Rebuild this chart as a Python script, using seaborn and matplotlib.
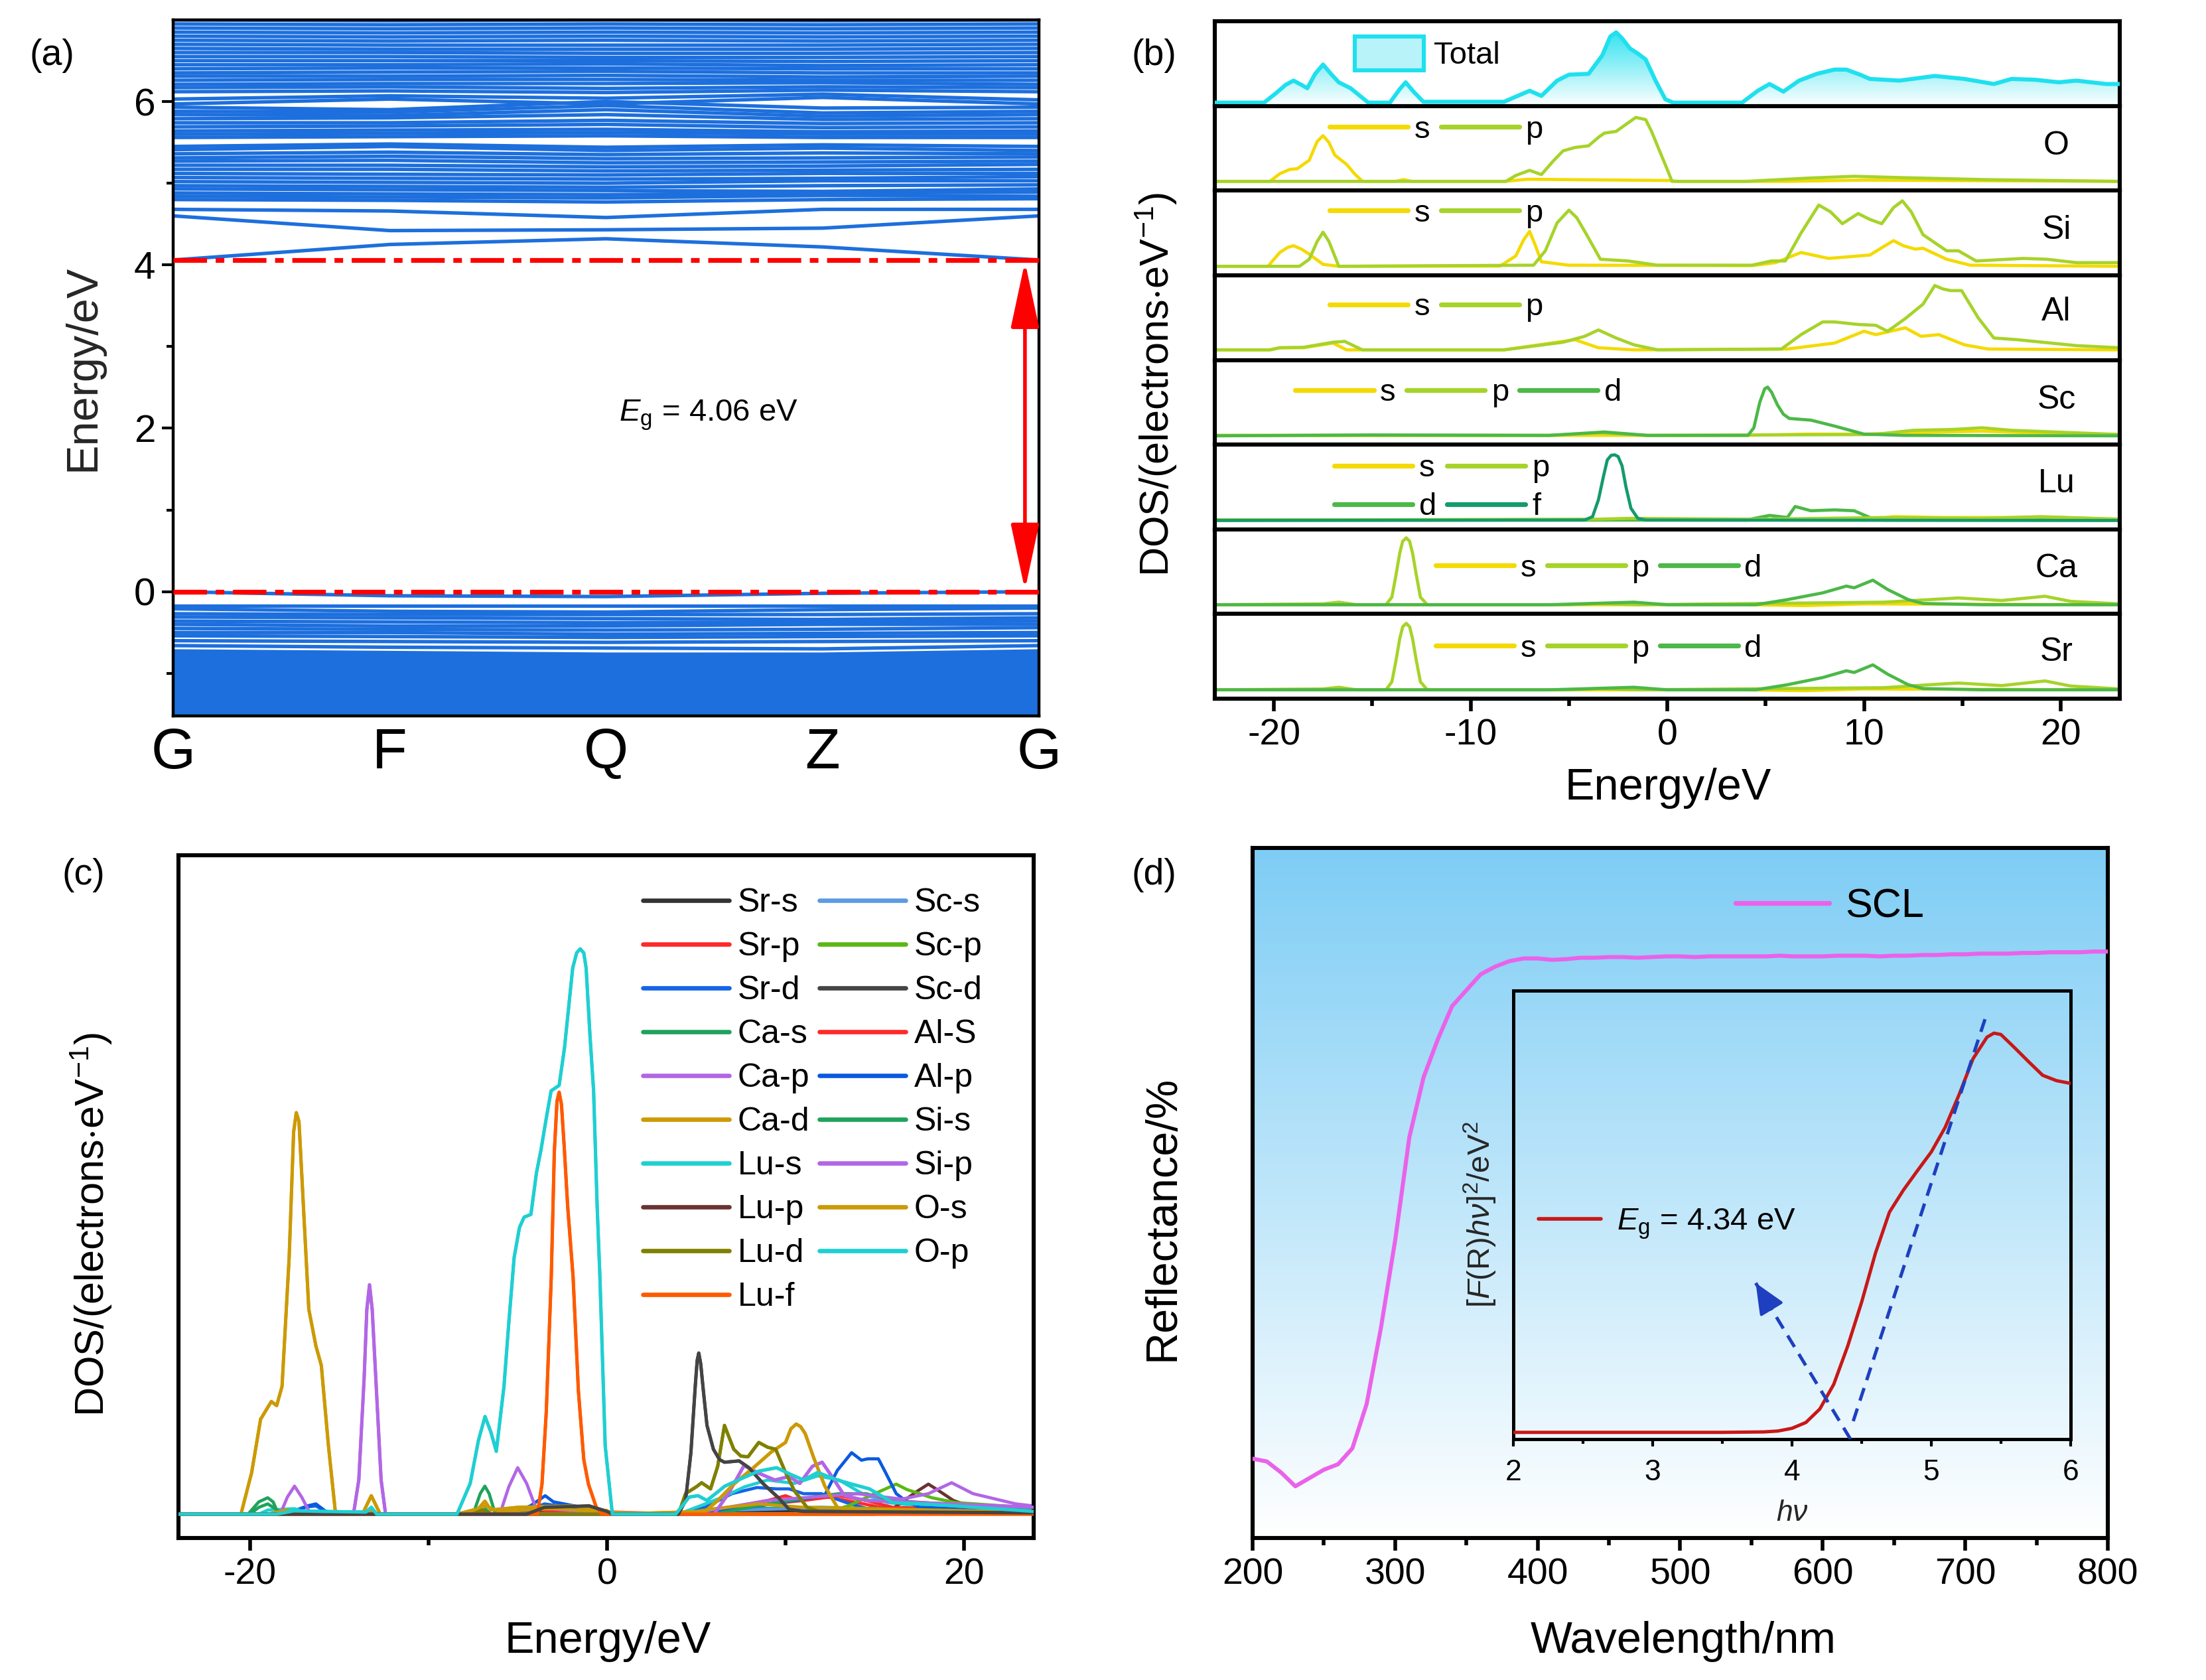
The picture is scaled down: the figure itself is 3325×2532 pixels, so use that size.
import numpy as np
import matplotlib
matplotlib.use('Agg')
import matplotlib.pyplot as plt
import seaborn as sns
from matplotlib.colors import LinearSegmentedColormap
from matplotlib.lines import Line2D
from matplotlib.patches import Patch, PathPatch

# ---------------- (a) band structure: energies at G F Q Z G ----------------
K_LABELS = ['G', 'F', 'Q', 'Z', 'G']
K_POS = [0, 1, 2, 3, 4]
CB_BANDS = [
    [4.06, 4.25, 4.32, 4.22, 4.06],
    [4.60, 4.42, 4.43, 4.45, 4.60],
    [4.68, 4.66, 4.58, 4.68, 4.68],
    [4.80, 4.79, 4.77, 4.80, 4.81],
    [4.84, 4.83, 4.82, 4.85, 4.84],
    [4.88, 4.87, 4.86, 4.88, 4.89],
    [4.93, 4.92, 4.91, 4.90, 4.93],
    [4.97, 4.96, 4.95, 4.97, 4.98],
    [5.02, 5.01, 5.00, 5.03, 5.03],
    [5.07, 5.06, 5.05, 5.06, 5.08],
    [5.12, 5.11, 5.10, 5.12, 5.12],
    [5.17, 5.17, 5.15, 5.16, 5.17],
    [5.22, 5.22, 5.20, 5.21, 5.23],
    [5.27, 5.28, 5.25, 5.26, 5.27],
    [5.31, 5.33, 5.30, 5.31, 5.32],
    [5.36, 5.38, 5.35, 5.37, 5.36],
    [5.41, 5.45, 5.40, 5.43, 5.40],
    [5.45, 5.48, 5.44, 5.47, 5.45],
    [5.56, 5.57, 5.58, 5.56, 5.56],
    [5.60, 5.61, 5.62, 5.60, 5.60],
    [5.64, 5.65, 5.66, 5.63, 5.64],
    [5.69, 5.70, 5.72, 5.68, 5.69],
    [5.74, 5.74, 5.77, 5.73, 5.74],
    [5.79, 5.80, 5.84, 5.78, 5.79],
    [5.84, 5.83, 5.90, 5.82, 5.84],
    [5.88, 5.87, 5.95, 5.86, 5.88],
    [5.93, 5.90, 6.00, 5.92, 5.93],
    [5.97, 6.03, 5.97, 6.05, 5.97],
    [6.03, 6.07, 6.04, 6.09, 6.02],
    [6.12, 6.13, 6.11, 6.14, 6.12],
    [6.17, 6.18, 6.16, 6.18, 6.17],
    [6.21, 6.22, 6.22, 6.23, 6.21],
    [6.26, 6.27, 6.27, 6.26, 6.26],
    [6.31, 6.31, 6.32, 6.30, 6.31],
    [6.35, 6.36, 6.37, 6.35, 6.35],
    [6.40, 6.41, 6.41, 6.40, 6.40],
    [6.45, 6.45, 6.46, 6.44, 6.45],
    [6.50, 6.50, 6.50, 6.49, 6.50],
    [6.55, 6.55, 6.54, 6.54, 6.55],
    [6.60, 6.60, 6.59, 6.59, 6.60],
    [6.65, 6.64, 6.64, 6.64, 6.65],
    [6.70, 6.69, 6.69, 6.69, 6.70],
    [6.75, 6.74, 6.75, 6.74, 6.75],
    [6.80, 6.79, 6.80, 6.79, 6.80],
    [6.85, 6.84, 6.85, 6.84, 6.85],
    [6.90, 6.89, 6.90, 6.89, 6.90],
    [6.95, 6.94, 6.95, 6.94, 6.95],
    [7.00, 6.99, 7.00, 6.99, 7.00],
]
VB_BANDS = [
    [0.00, -0.05, -0.06, -0.02, 0.00],
    [-0.17, -0.17, -0.17, -0.17, -0.17],
    [-0.21, -0.24, -0.25, -0.22, -0.20],
    [-0.27, -0.28, -0.28, -0.28, -0.27],
    [-0.31, -0.32, -0.33, -0.34, -0.32],
    [-0.36, -0.37, -0.38, -0.37, -0.36],
    [-0.40, -0.42, -0.42, -0.40, -0.40],
    [-0.45, -0.46, -0.47, -0.46, -0.44],
    [-0.50, -0.50, -0.52, -0.51, -0.50],
    [-0.54, -0.55, -0.56, -0.55, -0.54],
    [-0.60, -0.61, -0.62, -0.61, -0.60],
    [-0.66, -0.68, -0.69, -0.70, -0.66],
]
VB_DENSE_TOP = [-0.70, -0.72, -0.74, -0.74, -0.70]
VB_DENSE_BOTTOM = [-1.60, -1.60, -1.60, -1.60, -1.60]
VBM, CBM = 0.0, 4.06

# ---------------- (b) projected DOS (fraction of each sub-panel height) ----------------
TOTAL = [(-23, 0.04), (-20.5, 0.04), (-19.9, 0.15), (-19.4, 0.25), (-19.0, 0.30), (-18.6, 0.25),
         (-18.3, 0.21), (-17.9, 0.38), (-17.5, 0.49), (-17.1, 0.38), (-16.7, 0.28), (-16.1, 0.21),
         (-15.2, 0.04), (-14.1, 0.04), (-13.6, 0.20), (-13.3, 0.28), (-12.9, 0.17), (-12.4, 0.05),
         (-8.3, 0.05), (-7.0, 0.18), (-6.4, 0.12), (-5.6, 0.30), (-5.0, 0.37), (-4.0, 0.38),
         (-3.3, 0.60), (-2.9, 0.82), (-2.6, 0.87), (-2.3, 0.80), (-1.9, 0.68), (-1.5, 0.62),
         (-1.1, 0.55), (-0.6, 0.30), (-0.1, 0.08), (0.3, 0.04), (3.8, 0.04), (4.6, 0.18),
         (5.2, 0.26), (5.9, 0.17), (6.7, 0.30), (7.6, 0.38), (8.5, 0.43), (9.1, 0.43), (9.8, 0.37),
         (10.3, 0.32), (11.8, 0.30), (13.6, 0.355), (15.1, 0.32), (16.6, 0.26), (17.5, 0.32),
         (18.7, 0.31), (19.9, 0.28), (20.8, 0.30), (22.3, 0.26), (23, 0.26)]
O_S = [(-23, 0.11), (-20.2, 0.11), (-19.7, 0.20), (-19.2, 0.25), (-18.8, 0.26), (-18.2, 0.36),
       (-17.8, 0.58), (-17.5, 0.65), (-17.2, 0.57), (-16.9, 0.42), (-16.3, 0.31), (-15.9, 0.20),
       (-15.5, 0.11), (-13.8, 0.11), (-13.4, 0.13), (-13.0, 0.11), (-8.3, 0.11), (-7.1, 0.135),
       (0.1, 0.12), (0.5, 0.11), (6, 0.11), (10, 0.125), (14, 0.12), (23, 0.11)]
O_P = [(-23, 0.11), (-8.2, 0.11), (-7.7, 0.18), (-7.0, 0.24), (-6.4, 0.19), (-5.8, 0.35),
       (-5.3, 0.47), (-4.7, 0.51), (-4.0, 0.53), (-3.5, 0.63), (-3.2, 0.68), (-2.6, 0.70),
       (-2.0, 0.80), (-1.6, 0.865), (-1.1, 0.84), (-0.8, 0.70), (-0.5, 0.53), (0.0, 0.25),
       (0.24, 0.11), (4.0, 0.11), (7.3, 0.15), (9.5, 0.17), (11.8, 0.155), (16.3, 0.13), (23, 0.11)]
SI_S = [(-23, 0.107), (-20.3, 0.107), (-19.7, 0.27), (-19.3, 0.33), (-19.0, 0.35), (-18.6, 0.31),
        (-18.2, 0.25), (-17.5, 0.13), (-16.7, 0.107), (-8.5, 0.11), (-7.7, 0.23), (-7.3, 0.42),
        (-7.0, 0.52), (-6.7, 0.35), (-6.4, 0.16), (-5.0, 0.12), (4.3, 0.115), (5.5, 0.15),
        (6.8, 0.27), (8.2, 0.20), (10.3, 0.24), (11.0, 0.34), (11.5, 0.41), (12.0, 0.35),
        (12.6, 0.31), (13.0, 0.32), (14.2, 0.19), (15.4, 0.12), (23, 0.107)]
SI_P = [(-23, 0.107), (-18.7, 0.107), (-18.2, 0.19), (-17.8, 0.40), (-17.5, 0.51), (-17.2, 0.40),
        (-16.7, 0.107), (-6.8, 0.12), (-6.2, 0.29), (-5.6, 0.62), (-5.0, 0.77), (-4.6, 0.68),
        (-4.1, 0.48), (-3.4, 0.19), (-2.0, 0.17), (-0.5, 0.12), (4.3, 0.12), (5.3, 0.17),
        (6.0, 0.17), (6.8, 0.50), (7.7, 0.83), (8.3, 0.75), (8.9, 0.61), (9.7, 0.73), (10.3, 0.66),
        (10.9, 0.61), (11.5, 0.80), (11.95, 0.88), (12.4, 0.75), (13.0, 0.48), (14.2, 0.29),
        (14.8, 0.29), (15.7, 0.17), (18.1, 0.20), (19.3, 0.19), (20.8, 0.15), (23, 0.15)]
AL_S = [(-23, 0.12), (-20.2, 0.12), (-19.7, 0.145), (-18.5, 0.145), (-17.0, 0.20), (-16.3, 0.12),
        (-8.3, 0.12), (-7.1, 0.16), (-4.7, 0.24), (-3.5, 0.145), (-1.7, 0.12), (6.1, 0.13),
        (8.5, 0.20), (10.0, 0.34), (10.6, 0.30), (12.1, 0.38), (12.9, 0.28), (13.8, 0.30),
        (15.1, 0.18), (16.3, 0.13), (23, 0.12)]
AL_P = [(-23, 0.12), (-20.2, 0.12), (-19.7, 0.145), (-18.5, 0.15), (-17.0, 0.21), (-16.4, 0.22),
        (-15.5, 0.12), (-8.3, 0.12), (-5.3, 0.21), (-4.2, 0.28), (-3.5, 0.355), (-2.6, 0.26),
        (-1.7, 0.18), (-0.5, 0.12), (5.8, 0.13), (6.8, 0.30), (7.9, 0.45), (8.5, 0.45), (9.7, 0.42),
        (10.6, 0.41), (11.2, 0.34), (12.1, 0.49), (13.0, 0.66), (13.6, 0.88), (14.0, 0.84),
        (14.4, 0.82), (14.96, 0.82), (15.8, 0.50), (16.6, 0.26), (17.8, 0.24), (20.8, 0.17), (23, 0.145)]
SC_S = [(-23, 0.11), (4.0, 0.11), (7, 0.125), (10, 0.125), (12, 0.14), (16, 0.16), (20, 0.13), (23, 0.12)]
SC_P = [(-23, 0.11), (-6.0, 0.11), (-3.5, 0.14), (-1.0, 0.11), (10.5, 0.12), (12.5, 0.17),
        (14.5, 0.18), (16.0, 0.20), (17.5, 0.17), (23, 0.12)]
SC_D = [(-23, 0.105), (-15, 0.115), (-6, 0.11), (-3.2, 0.15), (-1.0, 0.11), (4.1, 0.11),
        (4.4, 0.20), (4.7, 0.50), (4.95, 0.66), (5.1, 0.68), (5.3, 0.62), (5.6, 0.47), (5.9, 0.36),
        (6.2, 0.31), (7.3, 0.29), (8.5, 0.22), (10.0, 0.125), (12, 0.11), (23, 0.105)]
LU_S = [(-23, 0.11), (10.5, 0.12), (11.5, 0.15), (14, 0.14), (20, 0.14), (23, 0.12)]
LU_P = [(-23, 0.11), (-3.5, 0.12), (-2.0, 0.13), (4.5, 0.12), (11, 0.14), (16, 0.13), (19, 0.15), (23, 0.12)]
LU_D = [(-23, 0.11), (4.0, 0.11), (5.2, 0.165), (6.1, 0.14), (6.5, 0.27), (7.3, 0.22), (8.5, 0.23),
        (9.5, 0.22), (10.3, 0.14), (11, 0.11), (23, 0.11)]
LU_F = [(-23, 0.105), (-4.2, 0.11), (-3.8, 0.15), (-3.5, 0.35), (-3.25, 0.62), (-3.05, 0.82),
        (-2.85, 0.875), (-2.67, 0.88), (-2.5, 0.86), (-2.3, 0.75), (-2.1, 0.50), (-1.85, 0.25),
        (-1.5, 0.13), (-1.1, 0.11), (23, 0.105)]
CA_S = [(-23, 0.11), (4, 0.11), (7, 0.10), (10, 0.12), (23, 0.11)]
CA_P = [(-23, 0.11), (-17.5, 0.12), (-16.7, 0.14), (-15.8, 0.11), (-14.3, 0.11), (-14.0, 0.20),
        (-13.8, 0.45), (-13.6, 0.72), (-13.45, 0.86), (-13.27, 0.90), (-13.1, 0.86), (-12.95, 0.72),
        (-12.75, 0.45), (-12.55, 0.20), (-12.2, 0.11), (-5, 0.11), (-3.5, 0.125), (-1.5, 0.11),
        (11, 0.14), (13.3, 0.17), (14.8, 0.19), (17, 0.16), (19.2, 0.21), (20.5, 0.15), (23, 0.12)]
CA_D = [(-23, 0.11), (-6, 0.11), (-1.7, 0.14), (0, 0.11), (4.5, 0.11), (6.1, 0.17), (7.9, 0.25),
        (9.1, 0.33), (9.5, 0.31), (10.45, 0.40), (11.2, 0.29), (12.25, 0.17), (13.0, 0.125),
        (16, 0.11), (23, 0.11)]
SR_S = [(-23, 0.105), (4, 0.105), (7, 0.095), (10, 0.115), (23, 0.105)]
SR_P = [(-23, 0.105), (-17.5, 0.115), (-16.7, 0.135), (-15.8, 0.105), (-14.3, 0.105), (-14.0, 0.20),
        (-13.8, 0.44), (-13.6, 0.71), (-13.45, 0.85), (-13.27, 0.89), (-13.1, 0.85), (-12.95, 0.71),
        (-12.75, 0.44), (-12.55, 0.20), (-12.2, 0.105), (-5, 0.105), (-3.5, 0.12), (-1.5, 0.105),
        (11, 0.13), (13.3, 0.165), (14.8, 0.185), (17, 0.155), (19.2, 0.21), (20.5, 0.15), (23, 0.115)]
SR_D = [(-23, 0.105), (-6, 0.105), (-1.7, 0.135), (0, 0.105), (4.5, 0.105), (6.1, 0.165), (7.9, 0.25),
        (9.1, 0.33), (9.5, 0.31), (10.45, 0.40), (11.2, 0.29), (12.25, 0.165), (13.0, 0.12),
        (16, 0.105), (23, 0.105)]

# sub-panels of (b): name, curves (label, data), legend x, legend y, legend columns, element label y
B_PANELS = [
    ('O',  [('s', O_S), ('p', O_P)], 0.127, 0.72, 2, 0.53),
    ('Si', [('s', SI_S), ('p', SI_P)], 0.127, 0.73, 2, 0.53),
    ('Al', [('s', AL_S), ('p', AL_P)], 0.127, 0.62, 2, 0.57),
    ('Sc', [('s', SC_S), ('p', SC_P), ('d', SC_D)], 0.089, 0.61, 3, 0.53),
    ('Lu', [('s', LU_S), ('d', LU_D), ('p', LU_P), ('f', LU_F)], 0.132, 0.49, 2, 0.54),
    ('Ca', [('s', CA_S), ('p', CA_P), ('d', CA_D)], 0.244, 0.54, 3, 0.54),
    ('Sr', [('s', SR_S), ('p', SR_P), ('d', SR_D)], 0.244, 0.59, 3, 0.55),
]
ORB_COLORS = {'s': '#f4da00', 'p': '#a6d32a', 'd': '#4cb848', 'f': '#139b6c'}

# ---------------- (c) all partial DOS (fraction of axes height) ----------------
SR_S_C = [(-24, 0), (-5, 0), (-3, 0.008), (-1, 0.012), (0, 0.004), (0.3, 0), (4, 0), (6, 0.005), (10, 0.005), (23.9, 0.002)]
SR_P_C = [(-24, 0), (5, 0), (7, 0.01), (9, 0.02), (10.0, 0.027), (10.7, 0.02), (11.9, 0.027), (12.6, 0.024),
          (14, 0.017), (15.3, 0.01), (23.9, 0.002)]
SR_D_C = [(-24, 0), (-18, 0), (-17, 0.01), (-16.3, 0.012), (-15.5, 0), (-5, 0), (-3.5, 0.015), (-1, 0.006),
          (0.3, 0), (4, 0), (5.5, 0.01), (7, 0.03), (8.4, 0.039), (9.5, 0.037), (10.2, 0.037), (11.0, 0.03),
          (12.0, 0.03), (13.4, 0.017), (14.7, 0.007), (23.9, 0.003)]
CA_S_C = [(-24, 0), (-20.1, 0), (-19.5, 0.018), (-19.0, 0.024), (-18.7, 0.018), (-18.4, 0), (-7.5, 0),
          (-7.1, 0.03), (-6.84, 0.041), (-6.6, 0.03), (-6.3, 0.004), (-5, 0), (5, 0), (8, 0.008), (12, 0.01), (23.9, 0.003)]
CA_P_C = [(-24, 0), (-14.2, 0), (-13.9, 0.05), (-13.6, 0.2), (-13.45, 0.3), (-13.3, 0.336), (-13.15, 0.3),
          (-12.95, 0.2), (-12.65, 0.05), (-12.4, 0), (6, 0), (6.8, 0.03), (7.67, 0.071), (8.5, 0.06),
          (9.4, 0.05), (10.2, 0.055), (10.8, 0.045), (11.5, 0.07), (12.05, 0.076), (12.6, 0.055),
          (13.3, 0.027), (14.5, 0.02), (23.9, 0.01)]
CA_D_C = [(-24, 0), (-20.5, 0), (-19.9, 0.061), (-19.4, 0.139), (-18.8, 0.165), (-18.5, 0.159), (-18.2, 0.187),
          (-17.8, 0.376), (-17.55, 0.56), (-17.4, 0.588), (-17.25, 0.575), (-17.1, 0.50), (-16.9, 0.40),
          (-16.7, 0.30), (-16.3, 0.246), (-16.0, 0.218), (-15.6, 0.10), (-15.2, 0), (-13.7, 0), (-13.2, 0.027),
          (-12.7, 0), (-8.4, 0), (-7.2, 0.008), (-6.84, 0.019), (-6.5, 0.006), (-5, 0.01), (-2, 0.012),
          (0, 0.005), (0.3, 0), (5.5, 0.004), (6.2, 0.02), (7.1, 0.044), (8.2, 0.068), (9.2, 0.091),
          (10.0, 0.105), (10.3, 0.125), (10.6, 0.132), (10.85, 0.128), (11.1, 0.118), (11.6, 0.081),
          (12.2, 0.041), (12.9, 0.01), (14, 0.004), (23.9, 0.003)]
LU_S_C = [(-24, 0), (-19.5, 0), (-19, 0.006), (-17.5, 0.008), (-16.5, 0), (4, 0), (5, 0.01), (6.5, 0.025),
          (7.7, 0.04), (9.0, 0.05), (10.5, 0.045), (11.8, 0.056), (13.0, 0.05), (14.3, 0.03),
          (15.7, 0.017), (19, 0.008), (23.9, 0.003)]
LU_P_C = [(-24, 0), (15, 0), (16, 0.008), (17.4, 0.034), (18.0, 0.044), (18.6, 0.034), (19.4, 0.02),
          (20.5, 0.01), (23.9, 0.004)]
LU_D_C = [(-24, 0), (-7.5, 0), (-7, 0.006), (-6.5, 0), (4.0, 0), (4.4, 0.030), (5.0, 0.04), (5.3, 0.046),
          (5.8, 0.037), (6.2, 0.07), (6.58, 0.13), (6.8, 0.115), (7.1, 0.095), (7.5, 0.085), (7.9, 0.084),
          (8.5, 0.105), (9.0, 0.098), (9.45, 0.095), (10.0, 0.061), (10.5, 0.034), (11.2, 0.01),
          (12, 0.003), (23.9, 0.002)]
LU_F_C = [(-24, 0), (-3.9, 0), (-3.64, 0.044), (-3.4, 0.15), (-3.12, 0.348), (-2.95, 0.53), (-2.8, 0.605),
          (-2.68, 0.618), (-2.55, 0.60), (-2.4, 0.54), (-2.2, 0.45), (-1.9, 0.348), (-1.6, 0.18),
          (-1.3, 0.08), (-1.04, 0.044), (-0.6, 0.01), (-0.3, 0), (23.9, 0)]
SC_S_C = [(-24, 0), (4, 0), (6, 0.005), (10, 0.008), (14, 0.006), (23.9, 0.003)]
SC_P_C = [(-24, 0), (12, 0.0), (13.5, 0.012), (15, 0.03), (16.2, 0.044), (16.8, 0.036), (18.2, 0.024),
          (19.5, 0.017), (23.9, 0.009)]
SC_D_C = [(-24, 0), (-4.5, 0), (-3.5, 0.01), (-1, 0.012), (0, 0.004), (0.3, 0), (4.0, 0), (4.4, 0.02),
          (4.7, 0.09), (4.95, 0.19), (5.05, 0.225), (5.14, 0.236), (5.25, 0.22), (5.4, 0.18), (5.6, 0.13),
          (5.96, 0.095), (6.3, 0.08), (6.58, 0.076), (7.4, 0.078), (7.95, 0.068), (8.77, 0.044),
          (9.6, 0.024), (10.2, 0.007), (11, 0.004), (23.9, 0.002)]
AL_S_C = [(-24, 0), (-4, 0), (-3, 0.005), (0, 0), (6, 0), (8, 0.012), (11, 0.02), (13, 0.027), (14.5, 0.02),
          (16, 0.01), (23.9, 0.003)]
AL_P_C = [(-24, 0), (-17.5, 0), (-16.8, 0.012), (-16.3, 0.015), (-15.8, 0.005), (-15.3, 0), (-5.5, 0),
          (-4.3, 0.012), (-3.46, 0.027), (-3.0, 0.018), (-1.0, 0.008), (0.3, 0), (4, 0), (8, 0.01),
          (11, 0.022), (12.2, 0.028), (12.9, 0.064), (13.7, 0.09), (14.25, 0.079), (14.6, 0.081),
          (15.2, 0.081), (15.6, 0.061), (16.2, 0.03), (16.7, 0.02), (17.5, 0.01), (23.9, 0.005)]
SI_S_C = [(-24, 0), (-20, 0), (-19.5, 0.01), (-19, 0.015), (-18.4, 0.005), (-18, 0), (-7.5, 0), (-7.0, 0.012),
          (-6.5, 0), (6, 0), (9, 0.015), (11.5, 0.025), (13, 0.03), (14.5, 0.03), (16, 0.02), (23.9, 0.006)]
SI_P_C = [(-24, 0), (-18.3, 0), (-17.9, 0.025), (-17.5, 0.041), (-17.1, 0.025), (-16.6, 0), (-6.0, 0),
          (-5.5, 0.04), (-5.0, 0.068), (-4.5, 0.045), (-4.0, 0.01), (-2, 0.005), (4.5, 0), (9, 0.02),
          (14, 0.03), (16.5, 0.022), (18.0, 0.03), (19.3, 0.046), (20.5, 0.03), (22.9, 0.015), (23.9, 0.012)]
O_S_C = [(-24, 0), (-19, 0), (-18, 0.006), (-17, 0), (-13.5, 0), (-13.2, 0.006), (-13, 0), (-7.5, 0),
         (-6.84, 0.012), (-6, 0.004), (-3, 0.008), (0, 0.003), (4, 0), (6, 0.008), (8.5, 0.015),
         (11, 0.01), (23.9, 0.003)]
O_P_C = [(-24, 0), (-18.5, 0), (-17.5, 0.005), (-16, 0.004), (-13.5, 0.003), (-13.2, 0.01), (-12.9, 0),
         (-8.4, 0), (-7.66, 0.045), (-7.2, 0.108), (-6.83, 0.143), (-6.5, 0.12), (-6.2, 0.092),
         (-5.77, 0.187), (-5.5, 0.28), (-5.2, 0.376), (-4.9, 0.42), (-4.64, 0.435), (-4.26, 0.439),
         (-3.95, 0.50), (-3.7, 0.533), (-3.4, 0.58), (-3.13, 0.62), (-2.68, 0.628), (-2.38, 0.683),
         (-1.92, 0.80), (-1.7, 0.822), (-1.5, 0.828), (-1.3, 0.822), (-1.17, 0.80), (-0.95, 0.70),
         (-0.75, 0.62), (-0.55, 0.45), (-0.4, 0.35), (-0.1, 0.10), (0.3, 0), (3.85, 0), (4.6, 0.025),
         (5.1, 0.027), (5.6, 0.02), (6.6, 0.041), (7.7, 0.054), (8.5, 0.063), (9.5, 0.068),
         (10.3, 0.058), (11.0, 0.05), (11.8, 0.061), (12.9, 0.05), (13.7, 0.044), (14.7, 0.037),
         (16.0, 0.017), (19, 0.013), (23.9, 0.004)]

C_SERIES = [
    ('Sr-s', SR_S_C, '#333333'), ('Sr-p', SR_P_C, '#ff2a2a'), ('Sr-d', SR_D_C, '#1464e6'),
    ('Ca-s', CA_S_C, '#1fa35c'), ('Ca-p', CA_P_C, '#b266e6'), ('Ca-d', CA_D_C, '#cc9a06'),
    ('Lu-s', LU_S_C, '#1fcfd2'), ('Lu-p', LU_P_C, '#6b3232'), ('Lu-d', LU_D_C, '#808000'),
    ('Lu-f', LU_F_C, '#ff5a00'), ('Sc-s', SC_S_C, '#5b9be0'), ('Sc-p', SC_P_C, '#5ab814'),
    ('Sc-d', SC_D_C, '#444444'), ('Al-S', AL_S_C, '#ff2a2a'), ('Al-p', AL_P_C, '#0a5ae0'),
    ('Si-s', SI_S_C, '#1fa35c'), ('Si-p', SI_P_C, '#b266e6'), ('O-s', O_S_C, '#cc9a06'),
    ('O-p', O_P_C, '#1fcfd2'),
]

# ---------------- (d) reflectance and Kubelka-Munk inset ----------------
WAVELENGTH = list(range(200, 801, 10))
REFLECTANCE = [11.5, 11.1, 9.5, 7.5, 8.7, 9.9, 10.7, 13.0, 19.4, 30.4, 43.1, 58.1, 66.8, 72.3, 77.1,
               79.4, 81.7, 82.8, 83.6, 84.0, 84.0, 83.8, 83.9, 84.1, 84.1, 84.2, 84.2, 84.1, 84.2, 84.3,
               84.3, 84.2, 84.3, 84.3, 84.3, 84.3, 84.3, 84.4, 84.3, 84.3, 84.3, 84.4, 84.4, 84.4, 84.3,
               84.4, 84.4, 84.5, 84.5, 84.6, 84.6, 84.7, 84.7, 84.7, 84.8, 84.8, 84.9, 84.9, 84.9, 85.0, 85.0]
HV = [2.0, 2.5, 3.0, 3.5, 3.8, 3.9, 4.0, 4.1, 4.2, 4.3, 4.4, 4.5, 4.6, 4.7, 4.8, 4.9, 5.0, 5.1, 5.2,
      5.3, 5.4, 5.45, 5.5, 5.6, 5.7, 5.8, 5.9, 6.0]
KM = [0.015, 0.015, 0.015, 0.015, 0.016, 0.018, 0.024, 0.037, 0.067, 0.122, 0.207, 0.305, 0.415,
      0.506, 0.555, 0.598, 0.64, 0.695, 0.768, 0.848, 0.896, 0.905, 0.902, 0.872, 0.841, 0.811, 0.799, 0.793]
TANGENT_X = [4.44, 5.39]
TANGENT_Y = [0.04, 0.94]
ARROW_X = [4.42, 3.74]
ARROW_Y = [0.0, 0.348]

# ---------------- style ----------------
sns.set_theme(style='ticks')
plt.rcParams['font.family'] = ['Liberation Sans', 'DejaVu Sans']
plt.rcParams['mathtext.fontset'] = 'custom'
plt.rcParams['mathtext.rm'] = 'Liberation Sans'
plt.rcParams['mathtext.it'] = 'Liberation Sans:italic'
plt.rcParams['mathtext.bf'] = 'Liberation Sans:bold'
plt.rcParams['axes.unicode_minus'] = False
plt.rcParams['axes.edgecolor'] = 'black'
plt.rcParams['xtick.color'] = 'black'
plt.rcParams['ytick.color'] = 'black'
plt.rcParams['text.color'] = 'black'

fig = plt.figure(figsize=(16.625, 12.66), dpi=200)


def draw(ax, xs, ys, color, lw=1.6, zorder=2, **kw):
    sns.lineplot(x=list(xs), y=list(ys), ax=ax, color=color, lw=lw, legend=False,
                 estimator=None, sort=False, zorder=zorder, **kw)


def draw_pts(ax, pts, color, lw=1.6, zorder=2):
    xs, ys = zip(*pts)
    draw(ax, xs, ys, color, lw=lw, zorder=zorder)


# ================= (a) =================
BAND_C = '#1d6fdd'
axA = fig.add_axes([0.0785, 0.5739, 0.3925, 0.4143])
axA.fill_between(K_POS, VB_DENSE_TOP, VB_DENSE_BOTTOM, color=BAND_C, lw=0, zorder=1)
for band in CB_BANDS + VB_BANDS:
    draw(axA, K_POS, band, BAND_C, lw=1.9)
for e in (VBM, CBM):
    axA.axhline(e, color='#ff0000', lw=2.6, ls=(0, (7, 1.8, 1.8, 1.8)), zorder=4)
axA.annotate('', xy=(3.935, VBM + 0.02), xytext=(3.935, CBM - 0.02),
             arrowprops=dict(arrowstyle='<|-|>,head_length=1.4,head_width=0.3', color='#ff0000',
                             lw=2.0, shrinkA=0, shrinkB=0, mutation_scale=22), zorder=5)
axA.text(2.06, 2.16, r'$\it{E}_{\rm g}$ = 4.06 eV', fontsize=17, ha='left', va='center')
axA.set_xlim(0, 4)
axA.set_ylim(-1.52, 7.0)
axA.set_xticks(K_POS)
axA.set_xticklabels(K_LABELS, fontsize=31)
axA.set_yticks([0, 2, 4, 6])
axA.set_yticks([-1, 1, 3, 5], minor=True)
axA.tick_params(axis='y', labelsize=21, direction='out', length=6, width=1.5)
axA.tick_params(axis='y', which='minor', length=3.5, width=1.5)
axA.tick_params(axis='x', length=0, pad=6)
for s in axA.spines.values():
    s.set_linewidth(1.6)
axA.set_ylabel('Energy/eV', fontsize=24)
axA.yaxis.set_label_coords(-0.08, 0.5)

# ================= (b) =================
b_left, b_bottom, b_w, b_h = 0.5507, 0.5841, 0.4102, 0.4032
n_sub = 8
sub_h = b_h / n_sub
b_axes = []
for i in range(n_sub):
    ax = fig.add_axes([b_left, b_bottom + b_h - (i + 1) * sub_h, b_w, sub_h])
    ax.set_xlim(-23, 23)
    ax.set_ylim(0, 1)
    ax.set_yticks([])
    for s in ax.spines.values():
        s.set_linewidth(2.2)
    b_axes.append(ax)

# total DOS with gradient fill
axT = b_axes[0]
te, tv = zip(*TOTAL)
poly = axT.fill_between(te, tv, 0, color='none', lw=0)
grad = np.linspace(0, 1, 256).reshape(-1, 1)
cmap_t = LinearSegmentedColormap.from_list('tot', ['#ffffff', '#2fe2f0'])
im = axT.imshow(grad, extent=[-23, 23, 0, 0.9], origin='lower', cmap=cmap_t, aspect='auto', zorder=1)
clip = PathPatch(poly.get_paths()[0], transform=axT.transData, facecolor='none', edgecolor='none')
axT.add_patch(clip)
im.set_clip_path(clip)
draw(axT, te, tv, '#1fe0ee', lw=2.2, zorder=3)
axT.set_xlim(-23, 23)
axT.set_ylim(0, 1)
tot_handle = Patch(facecolor='#b8f3f9', edgecolor='#1fe0ee', lw=2.2)
axT.legend([tot_handle], ['Total'], loc='center left', bbox_to_anchor=(0.155, 0.62), frameon=False,
           fontsize=17, handlelength=2.2, handleheight=1.3, handletextpad=0.3, borderpad=0, borderaxespad=0)

for ax, (elem, curves, lx, ly, ncol, ey) in zip(b_axes[1:], B_PANELS):
    handles, labels = [], []
    for orb, pts in curves:
        draw_pts(ax, pts, ORB_COLORS[orb], lw=1.7)
        handles.append(Line2D([], [], color=ORB_COLORS[orb], lw=2.6))
        labels.append(orb)
    ax.legend(handles, labels, loc='center left', bbox_to_anchor=(lx, ly), ncol=ncol, frameon=False,
              fontsize=17, handlelength=2.5, handletextpad=0.2, columnspacing=0.35, labelspacing=0.3,
              borderpad=0, borderaxespad=0)
    ax.text(0.93, ey, elem, transform=ax.transAxes, ha='center', va='center', fontsize=18)

for ax in b_axes[:-1]:
    ax.set_xticks([])
axB = b_axes[-1]
axB.set_xticks([-20, -10, 0, 10, 20])
axB.set_xticks([-15, -5, 5, 15], minor=True)
axB.tick_params(axis='x', labelsize=20, direction='out', length=7, width=2)
axB.tick_params(axis='x', which='minor', direction='out', length=4, width=2)
fig.text(0.756, 0.531, 'Energy/eV', fontsize=24, ha='center', va='center')
fig.text(0.524, 0.771, r'DOS/(electrons$\cdot$eV$^{-1}$)', fontsize=22, rotation=90, ha='center', va='center')

# ================= (c) =================
axC = fig.add_axes([0.0809, 0.0845, 0.3877, 0.4064])
c_handles, c_labels = [], []
for name, pts, col in C_SERIES:
    draw_pts(axC, pts, col, lw=1.7)
    c_handles.append(Line2D([], [], color=col, lw=2.4))
    c_labels.append(name)
# redraw the dominant curves on top so they read as in the original
for name, pts, col in C_SERIES:
    if name in ('O-p', 'Lu-f', 'Ca-d', 'Ca-p', 'Sc-d', 'Lu-d'):
        draw_pts(axC, pts, col, lw=1.8, zorder=3)
axC.set_xlim(-24, 23.9)
axC.set_ylim(-0.035, 0.965)
axC.set_yticks([])
axC.set_xticks([-20, 0, 20])
axC.set_xticks([-10, 10], minor=True)
axC.tick_params(axis='x', labelsize=20, direction='out', length=7, width=2)
axC.tick_params(axis='x', which='minor', direction='out', length=4, width=2)
for s in axC.spines.values():
    s.set_linewidth(2.2)
axC.legend(c_handles, c_labels, ncol=2, loc='upper left', bbox_to_anchor=(0.543, 0.952), frameon=False,
           fontsize=18, handlelength=2.6, handletextpad=0.25, columnspacing=0.3, labelspacing=0.40,
           borderpad=0, borderaxespad=0)
fig.text(0.2755, 0.023, 'Energy/eV', fontsize=24, ha='center', va='center')
fig.text(0.0415, 0.271, r'DOS/(electrons$\cdot$eV$^{-1}$)', fontsize=22, rotation=90, ha='center', va='center')

# ================= (d) =================
axD = fig.add_axes([0.5678, 0.0845, 0.3877, 0.4107])
bg = np.linspace(0, 1, 256).reshape(-1, 1)
cmap_bg = LinearSegmentedColormap.from_list('bg', ['#ffffff', '#7ecdf5'])
axD.imshow(bg, extent=[200, 800, 0, 100], origin='lower', cmap=cmap_bg, aspect='auto', zorder=0)
draw(axD, WAVELENGTH, REFLECTANCE, '#ea62ea', lw=2.2, zorder=3)
axD.set_xlim(200, 800)
axD.set_ylim(0, 100)
axD.set_yticks([])
axD.set_xticks(range(200, 801, 100))
axD.set_xticks(range(250, 800, 100), minor=True)
axD.tick_params(axis='x', labelsize=20, direction='out', length=7, width=2)
axD.tick_params(axis='x', which='minor', direction='out', length=4, width=2)
for s in axD.spines.values():
    s.set_linewidth(2.2)
axD.legend([Line2D([], [], color='#ea62ea', lw=2.6)], ['SCL'], loc='center left',
           bbox_to_anchor=(0.565, 0.915), frameon=False, fontsize=22, handlelength=2.3,
           handletextpad=0.4, borderpad=0, borderaxespad=0)
fig.text(0.763, 0.023, 'Wavelength/nm', fontsize=24, ha='center', va='center')
fig.text(0.527, 0.275, 'Reflectance/%', fontsize=24, rotation=90, ha='center', va='center')

# inset
axI = fig.add_axes([0.686, 0.1434, 0.2526, 0.267])
axI.patch.set_alpha(0)
draw(axI, HV, KM, '#c81818', lw=1.8, zorder=3)
draw(axI, TANGENT_X, TANGENT_Y, '#1e3fbf', lw=1.8, zorder=4, dashes=(4, 2.5))
draw(axI, ARROW_X, ARROW_Y, '#1e3fbf', lw=1.8, zorder=4, dashes=(4, 2.5))
axI.annotate('', xy=(ARROW_X[1], ARROW_Y[1]), xytext=(ARROW_X[1] + 0.08, ARROW_Y[1] - 0.041),
             arrowprops=dict(arrowstyle='-|>,head_length=0.8,head_width=0.35', color='#1e3fbf',
                             lw=1.5, shrinkA=0, shrinkB=0, mutation_scale=18))
axI.set_xlim(2, 6)
axI.set_ylim(0, 1)
axI.set_yticks([])
axI.set_xticks([2, 3, 4, 5, 6])
axI.set_xticks([2.5, 3.5, 4.5, 5.5], minor=True)
axI.tick_params(axis='x', labelsize=16, direction='out', length=4, width=1.5, pad=7)
axI.tick_params(axis='x', which='minor', direction='out', length=2.5, width=1.5)
for s in axI.spines.values():
    s.set_linewidth(1.8)
axI.legend([Line2D([], [], color='#c81818', lw=2.0)], [r'$\it{E}_{\rm g}$ = 4.34 eV'], loc='center left',
           bbox_to_anchor=(0.045, 0.48), frameon=False, fontsize=17, handlelength=2.0,
           handletextpad=0.5, borderpad=0, borderaxespad=0)
axI.set_xlabel(r'$\it{h\nu}$', fontsize=16, labelpad=7)
axI.set_ylabel(r'[$\it{F}$(R)$\it{h\nu}$]$^2$/eV$^2$', fontsize=17, labelpad=8)

# panel letters
for lab, x, y in [('(a)', 0.0236, 0.967), ('(b)', 0.523, 0.967), ('(c)', 0.038, 0.479), ('(d)', 0.523, 0.479)]:
    fig.text(x, y, lab, fontsize=20, ha='center', va='center')

fig.savefig('out.png', dpi=200)
